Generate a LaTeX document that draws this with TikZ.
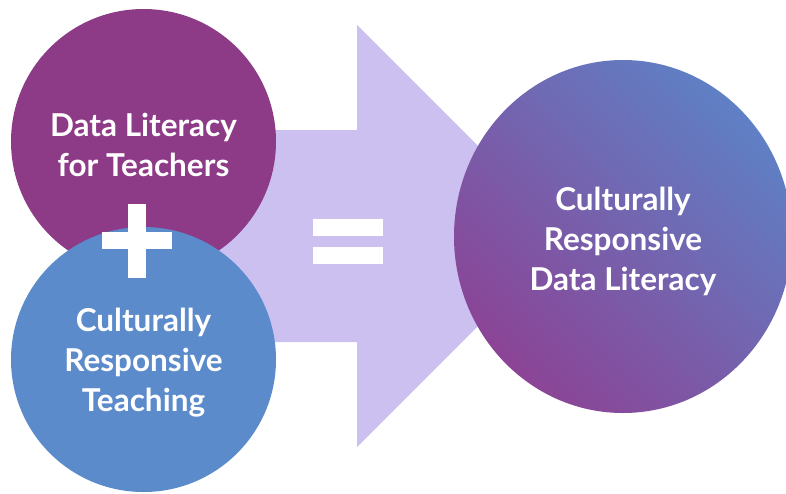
\documentclass[tikz,border=0pt]{standalone}
\usepackage{fontspec}
\setsansfont{Lato}
\usetikzlibrary{shapes.geometric}
\definecolor{plum}{RGB}{141,58,135}
\definecolor{crtblue}{RGB}{91,139,203}
\definecolor{lavender}{RGB}{203,192,240}
\definecolor{gradpurple}{RGB}{139,68,150}
\definecolor{gradblue}{RGB}{95,128,197}
\tikzset{
  bubble/.style={circle,minimum size=265pt,inner sep=0pt},
  caption/.style={text=white,align=center,inner sep=0pt,
    font=\sffamily\bfseries\fontsize{31.5}{40}\selectfont}
}

\begin{document}
\begin{tikzpicture}[x=1pt,y=-1pt]
  \useasboundingbox (0,0) rectangle (786,493);
  \clip (0,0) rectangle (786,493);
  % big arrow behind everything
  \fill[lavender] (143,130) -- (357,130) -- (357,25) -- (568,236) -- (357,447) -- (357,342) -- (143,342) -- cycle;
  \node[bubble,fill=plum] (dlt) at (143.5,141.5) {};
  \node[bubble,fill=crtblue] (crt) at (143.5,359.5) {};
  \node[bubble,ellipse,minimum width=338pt,minimum height=353pt,
    left color=gradblue,right color=gradpurple,shading angle=-45] (crdl) at (623,236.5) {};
  \node[caption] (dlttext) at ([yshift=-3pt]dlt.center) {Data Literacy\\for Teachers};
  \node[caption] (crttext) at ([yshift=-3pt]crt.center) {Culturally\\Responsive\\Teaching};
  \node[caption] (crdltext) at ([yshift=-5pt]crdl.center) {Culturally\\Responsive\\Data Literacy};
  % plus
  \fill[white] (128,204) rectangle (146,278);
  \fill[white] (102,232) rectangle (172,249);
  % equals
  \fill[white] (313,219) rectangle (383,236);
  \fill[white] (313,247) rectangle (383,264);
\end{tikzpicture}
\end{document}
